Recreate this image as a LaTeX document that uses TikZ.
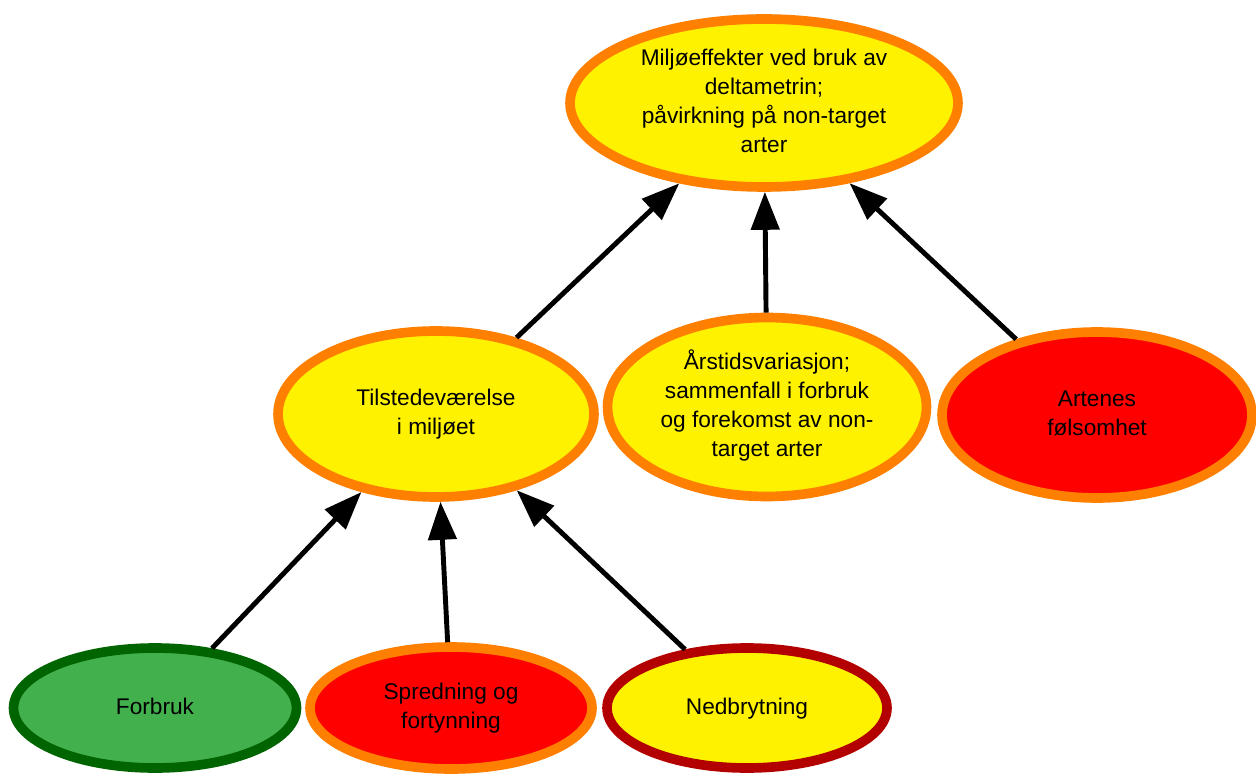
\documentclass[tikz,border=0pt]{standalone}
\usepackage{fontspec}
\setmainfont{Liberation Sans}
\usetikzlibrary{arrows.meta,shapes.geometric}
\definecolor{gul}{HTML}{FFF200}
\definecolor{oransje}{HTML}{FF8000}
\definecolor{rod}{HTML}{FF0000}
\definecolor{gronn}{HTML}{43B04E}
\definecolor{morkgronn}{HTML}{006400}
\definecolor{morkrod}{HTML}{B30000}
\newcommand{\bobletekst}[1]{\smash{\raisebox{-0.25em}{\makebox[0pt]{\begin{tabular}{@{}c@{}}#1\end{tabular}}}}}

\begin{document}
\begin{tikzpicture}[x=0.02cm, y=-0.02cm,
  boble/.style={ellipse, draw, line width=5.5pt, inner sep=0pt, font=\fontsize{12.9}{16.5}\selectfont},
  pil/.style={-{Triangle[length=0.76cm, width=0.56cm]}, line width=2.8pt}]
\useasboundingbox (0,0) rectangle (1256,776);
\node[boble, fill=gul, draw=oransje, minimum width=7.76cm, minimum height=3.36cm] (miljo) at (764,103)
  {\bobletekst{Miljøeffekter ved bruk av\\deltametrin;\\påvirkning på non-target\\arter}};
\node[boble, fill=gul, draw=oransje, minimum width=6.32cm, minimum height=3.32cm] (tilstede) at (436,414)
  {\bobletekst{Tilstedeværelse\\i miljøet}};
\node[boble, fill=gul, draw=oransje, minimum width=6.38cm, minimum height=3.58cm] (arstid) at (767,407)
  {\bobletekst{Årstidsvariasjon;\\sammenfall i forbruk\\og forekomst av non-\\target arter}};
\node[boble, fill=rod, draw=oransje, minimum width=6.20cm, minimum height=3.32cm] (artenes) at (1097,415)
  {\bobletekst{Artenes\\følsomhet}};
\node[boble, fill=gronn, draw=morkgronn, minimum width=5.66cm, minimum height=2.40cm] (forbruk) at (155,708)
  {\bobletekst{Forbruk}};
\node[boble, fill=rod, draw=oransje, minimum width=5.64cm, minimum height=2.44cm] (spredning) at (451,708)
  {\bobletekst{Spredning og\\fortynning}};
\node[boble, fill=gul, draw=morkrod, minimum width=5.60cm, minimum height=2.40cm] (nedbrytning) at (747,708)
  {\bobletekst{Nedbrytning}};
% piler
\draw[pil] (forbruk) -- (tilstede);
\draw[pil] (spredning) -- (tilstede);
\draw[pil] (nedbrytning) -- (tilstede);
\draw[pil] (tilstede) -- (miljo);
\draw[pil] (arstid) -- (miljo);
\draw[pil] (artenes) -- (miljo);
\end{tikzpicture}
\end{document}
